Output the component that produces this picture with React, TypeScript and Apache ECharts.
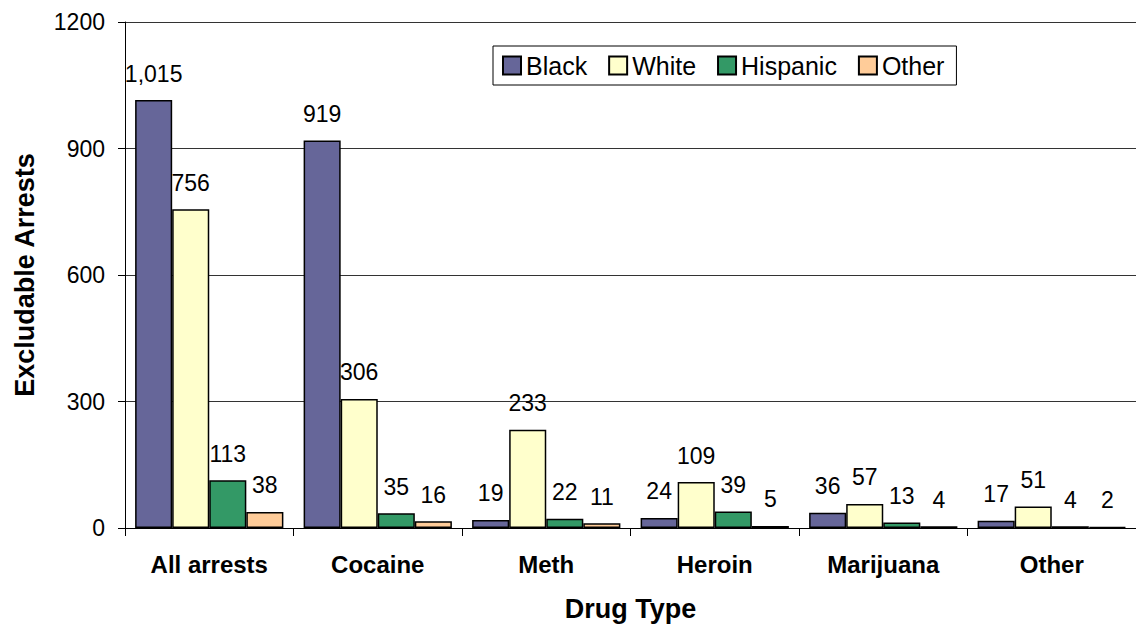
import React, { useEffect, useRef } from "react";
import * as echarts from "echarts";

const categories = ["All arrests", "Cocaine", "Meth", "Heroin", "Marijuana", "Other"];
const seriesNames = ["Black", "White", "Hispanic", "Other"];
const black = [1015, 919, 19, 24, 36, 17];
const white = [756, 306, 233, 109, 57, 51];
const hispanic = [113, 35, 22, 39, 13, 4];
const other = [38, 16, 11, 5, 4, 2];
const colors = ["#666699", "#FFFFCC", "#339966", "#FFCC99"];
const yTicks = [0, 300, 600, 900, 1200];

const FONT = "Liberation Sans, Arial, sans-serif";

export default function App() {
  const ref = useRef<HTMLDivElement>(null);

  useEffect(() => {
    if (!ref.current) return;
    const chart = echarts.init(ref.current, undefined, { renderer: "svg" });
    const values = [black, white, hispanic, other];
    chart.setOption({
      animation: false,
      backgroundColor: "#ffffff",
      textStyle: { fontFamily: FONT },
      grid: { left: 125, right: -12, top: 22, bottom: 96, containLabel: false },
      legend: {
        data: seriesNames,
        left: 493,
        top: 46,
        icon: "rect",
        itemWidth: 18,
        itemHeight: 18,
        itemGap: 21,
        padding: [7, 12, 7, 9],
        borderColor: "#000",
        borderWidth: 1,
        textStyle: { fontSize: 25, color: "#000", fontFamily: FONT },
      },
      xAxis: {
        type: "category",
        data: categories,
        axisLine: { lineStyle: { color: "#000", width: 1 } },
        axisTick: { show: true, length: 8, lineStyle: { color: "#000" } },
        axisLabel: { fontSize: 24, fontWeight: "bold", color: "#000", margin: 24, fontFamily: FONT },
        name: "Drug Type",
        nameLocation: "middle",
        nameGap: 67,
        nameTextStyle: { fontSize: 27, fontWeight: "bold", color: "#000", fontFamily: FONT },
      },
      yAxis: {
        type: "value",
        min: yTicks[0],
        max: yTicks[yTicks.length - 1],
        interval: 300,
        axisLine: { show: true, lineStyle: { color: "#000", width: 1 } },
        axisTick: { show: true, length: 7, lineStyle: { color: "#000" } },
        axisLabel: {
          fontSize: 23,
          color: "#000",
          margin: 20,
          fontFamily: FONT,
          formatter: (v: number) => String(v),
        },
        splitLine: { lineStyle: { color: "#333", width: 1 } },
        name: "Excludable Arrests",
        nameLocation: "middle",
        nameGap: 87,
        nameTextStyle: { fontSize: 27, fontWeight: "bold", color: "#000", fontFamily: FONT },
      },
      series: seriesNames.map((name, i) => ({
        name,
        type: "bar",
        data: values[i],
        barGap: "0%",
        barCategoryGap: "12%",
        itemStyle: { color: colors[i], borderColor: "#000", borderWidth: 1.5 },
        label: {
          show: true,
          position: "top",
          distance: 15,
          fontSize: 23,
          color: "#000",
          fontFamily: FONT,
          formatter: (p: any) => Number(p.value).toLocaleString("en-US"),
        },
      })),
    });
    return () => chart.dispose();
  }, []);

  return (
    <div
      ref={ref}
      style={{ position: "fixed", left: 0, top: 0, width: 1136, height: 627, background: "#fff" }}
    />
  );
}
